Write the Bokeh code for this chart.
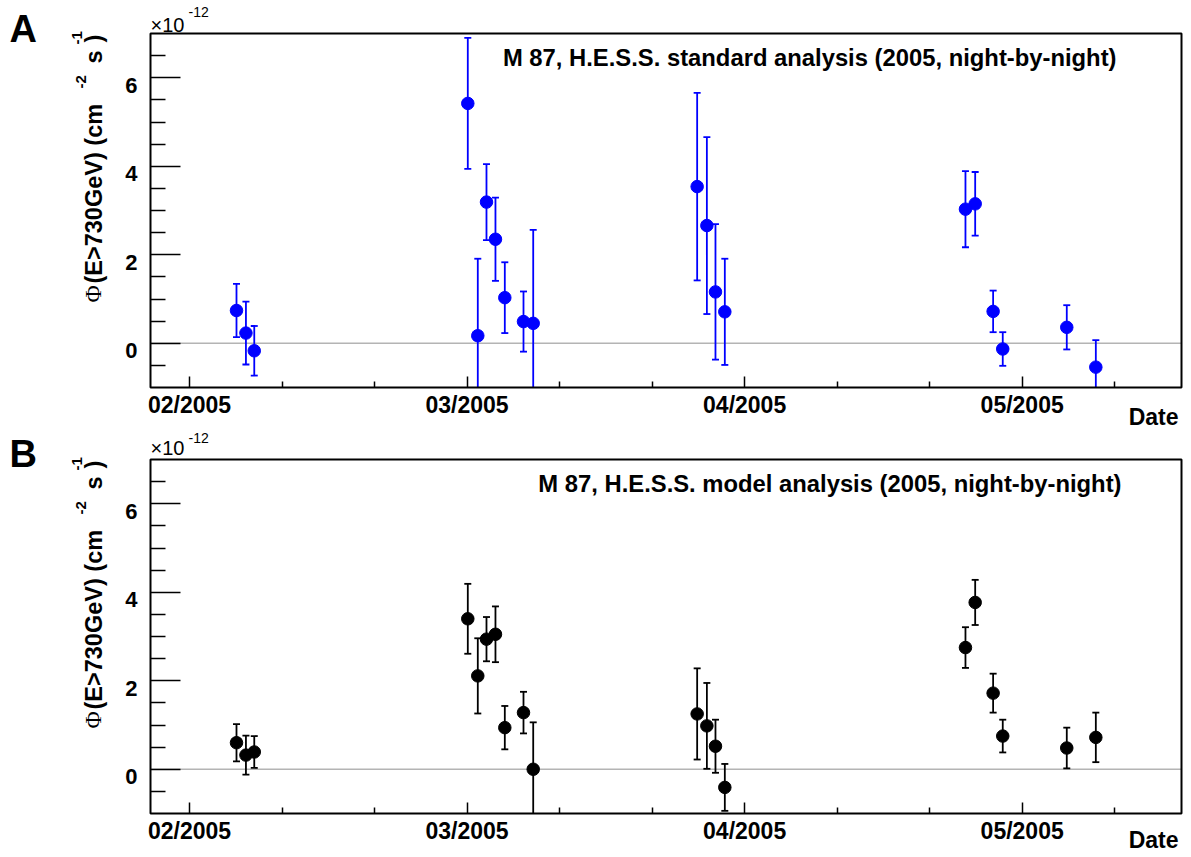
import numpy as np
from math import pi
from bokeh.plotting import figure
from bokeh.models import Range1d, FixedTicker, Label, LabelSet, ColumnDataSource, LinearAxis
from bokeh.layouts import column
from bokeh.embed import file_html
from bokeh.resources import INLINE
from bokeh.core.properties import value

# ---------------- data ----------------
# observation nights, days since 2005-01-01 00:00
night_day = [36.08, 37.10, 38.00, 61.08, 62.16, 63.10, 64.07, 65.08, 67.10, 68.15,
             85.87, 86.92, 87.85, 88.86, 114.87, 115.92, 117.86, 118.90, 125.82, 128.96]
# integral flux above 730 GeV, units of 1e-12 cm^-2 s^-1
flux_std = [0.74, 0.23, -0.17, 5.42, 0.17, 3.19, 2.35, 1.03, 0.49, 0.45,
            3.54, 2.66, 1.16, 0.71, 3.03, 3.15, 0.72, -0.13, 0.36, -0.54]
err_std = [0.60, 0.71, 0.56, 1.48, 1.74, 0.86, 0.94, 0.80, 0.68, 2.11,
           2.12, 2.00, 1.53, 1.20, 0.86, 0.72, 0.47, 0.38, 0.50, 0.61]
flux_model = [0.60, 0.32, 0.39, 3.40, 2.11, 2.94, 3.05, 0.94, 1.28, 0.00,
              1.25, 0.98, 0.52, -0.41, 2.75, 3.77, 1.72, 0.75, 0.48, 0.72]
err_model = [0.42, 0.44, 0.36, 0.79, 0.85, 0.50, 0.63, 0.49, 0.47, 1.06,
             1.03, 0.97, 0.60, 0.53, 0.46, 0.51, 0.44, 0.37, 0.46, 0.56]

month_ticks = [31, 61, 91, 121]
month_labels = ["02/2005", "03/2005", "04/2005", "05/2005"]
day_minor_ticks = [41, 51, 71, 81, 101, 111, 131]
flux_ticks = [0, 2, 4, 6]
flux_tick_labels = ["0", "2", "4", "6"]
flux_minor_ticks = [-0.5, 0.5, 1, 1.5, 2.5, 3, 3.5, 4.5, 5, 5.5, 6.5]
X_RANGE = (26.785, 138.22)   # plotted day range
Y_RANGE = (-1.0, 7.0)        # plotted flux range (x 1e-12)

title_std = "M 87, H.E.S.S. standard analysis (2005, night-by-night)"
title_model = "M 87, H.E.S.S. model analysis (2005, night-by-night)"

# ---------------- geometry (pixels) ----------------
W = 1190
FRAME_L = 150
FRAME_R = 1181
FONT = "Liberation Sans"
BASE_SHIFT = 0.38   # correction so that the text baseline lands on the requested pixel


def make_panel(H, ftop, fbot, flux, err, color, title, title_right, title_base,
               letter, letter_base, x10_base, exp_base, date_base):
    ppx = (FRAME_R - FRAME_L) / (X_RANGE[1] - X_RANGE[0])
    ppy = (fbot - ftop) / (Y_RANGE[1] - Y_RANGE[0])
    xs = X_RANGE[0] - FRAME_L / ppx
    xe = X_RANGE[0] + (W - FRAME_L) / ppx
    ye = Y_RANGE[1] + ftop / ppy
    ys = Y_RANGE[0] - (H - fbot) / ppy

    p = figure(width=W, height=H, x_range=Range1d(xs, xe), y_range=Range1d(ys, ye),
               output_backend="svg", toolbar_location=None, min_border=0,
               background_fill_color="white", border_fill_color="white")
    p.xgrid.visible = False
    p.ygrid.visible = False
    p.outline_line_color = None

    def dx(px):
        return xs + px / ppx

    def dy(py):
        return ye - py / ppy

    # x axis along the bottom of the frame
    xa = p.xaxis[0]
    xa.fixed_location = Y_RANGE[0]
    xa.ticker = FixedTicker(ticks=month_ticks, minor_ticks=day_minor_ticks)
    xa.major_label_overrides = {t: l for t, l in zip(month_ticks, month_labels)}
    xa.axis_line_color = None
    xa.major_tick_in = 11
    xa.major_tick_out = 0
    xa.minor_tick_in = 6
    xa.minor_tick_out = 0
    xa.major_tick_line_width = 1.5
    xa.minor_tick_line_width = 1.5
    xa.major_label_text_font = FONT
    xa.major_label_text_font_style = "bold"
    xa.major_label_text_font_size = "23px"
    xa.major_label_text_color = "black"
    xa.major_label_standoff = 4

    # y axis ticks along the left of the frame (short and long)
    ya = p.yaxis[0]
    ya.fixed_location = X_RANGE[0]
    ya.ticker = FixedTicker(ticks=[], minor_ticks=flux_minor_ticks)
    ya.axis_line_color = None
    ya.major_tick_in = 0
    ya.major_tick_out = 0
    ya.minor_tick_in = 15
    ya.minor_tick_out = 0
    ya.minor_tick_line_width = 1.5
    ya2 = LinearAxis(fixed_location=X_RANGE[0],
                     ticker=FixedTicker(ticks=[], minor_ticks=flux_ticks),
                     axis_line_color=None, major_tick_in=0, major_tick_out=0,
                     minor_tick_in=30, minor_tick_out=0, minor_tick_line_width=1.5)
    p.add_layout(ya2, "left")

    # y tick labels (ROOT places them slightly below the tick)
    ylab_src = ColumnDataSource(dict(
        x=[dx(FRAME_L - 13)] * len(flux_ticks),
        y=[t - 7.5 / ppy for t in flux_ticks],
        text=flux_tick_labels))
    p.add_layout(LabelSet(x="x", y="y", text="text", source=ylab_src,
                          text_align="right", text_baseline="middle",
                          text_font=value(FONT), text_font_size=value("22px"),
                          text_font_style=value("bold"), text_color=value("black")))

    # zero line
    p.segment(x0=[X_RANGE[0]], y0=[0], x1=[X_RANGE[1]], y1=[0],
              line_color="#b4b4b4", line_width=1.5)

    # data with error bars (clipped to the frame like the original)
    x = np.array(night_day)
    y = np.array(flux)
    e = np.array(err)
    lo = y - e
    hi = y + e
    lo_d = np.maximum(lo, Y_RANGE[0])
    hi_d = np.minimum(hi, Y_RANGE[1])
    p.segment(x0=x, y0=lo_d, x1=x, y1=hi_d, line_color=color, line_width=1.8)
    ok_hi = hi <= Y_RANGE[1]
    ok_lo = lo >= Y_RANGE[0]
    p.scatter(x[ok_hi], hi[ok_hi], marker="dash", size=7, line_color=color, line_width=1.8)
    p.scatter(x[ok_lo], lo[ok_lo], marker="dash", size=7, line_color=color, line_width=1.8)
    p.scatter(x, y, marker="circle", size=12.5, fill_color=color, line_color=color)

    # frame
    p.quad(left=[X_RANGE[0]], right=[X_RANGE[1]], bottom=[Y_RANGE[0]], top=[Y_RANGE[1]],
           fill_color=None, line_color="black", line_width=2)

    def add_text(px, py, text, size, style="bold", align="left", angle=0.0, font=FONT):
        # px, py: pixel position of the text baseline start (or end if right-aligned)
        if angle == 0.0:
            py = py - BASE_SHIFT * size
        else:
            px = px - BASE_SHIFT * size
        p.add_layout(Label(x=dx(px), y=dy(py), text=text, text_font=font,
                           text_font_size=f"{size}px", text_font_style=style,
                           text_align=align, text_baseline="alphabetic",
                           angle=angle, text_color="black"))

    # panel letter, exponent, title, x-axis title
    add_text(9, letter_base, letter, 38)
    add_text(150, x10_base, "\u00d710", 20, style="normal")
    add_text(188, exp_base, "-12", 14, style="normal")
    add_text(title_right, title_base, title, 23.8, align="right")
    add_text(1178, date_base, "Date", 23, align="right")

    # rotated y-axis title: Φ(E>730GeV) (cm^-2 s^-1)
    sh = ftop - 33
    add_text(101, 302 + sh, "\u03a6", 23.5, style="normal", angle=pi / 2, font="Liberation Serif")
    add_text(102, 283 + sh, "(E>730GeV) (cm", 23.5, angle=pi / 2)
    add_text(86, 88 + sh, "-2", 15, angle=pi / 2)
    add_text(102, 63 + sh, "s", 23.5, angle=pi / 2)
    add_text(82, 44 + sh, "-1", 15, angle=pi / 2)
    add_text(102, 42 + sh, ")", 23.5, angle=pi / 2)
    return p


# panel A occupies page rows 0..430, panel B rows 430..857 (local coordinates below)
pA = make_panel(430, 33, 387, flux_std, err_std, "#0000ff", title_std, 1116, 65.7,
                "A", 43, 32, 17, 425)
pB = make_panel(427, 29, 383, flux_model, err_model, "#000000", title_model, 1121, 61.7,
                "B", 38, 25, 13, 418)

layout = column(pA, pB, spacing=0)
open("out.html", "w").write(file_html(layout, INLINE))
